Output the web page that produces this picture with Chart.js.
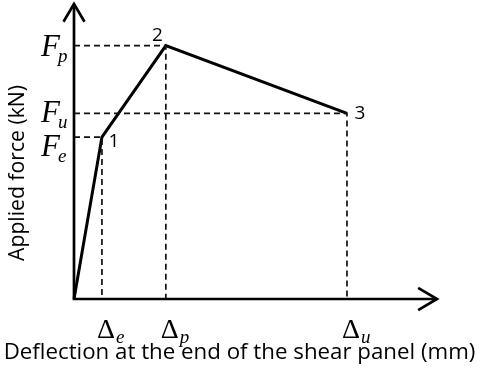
<!DOCTYPE html>
<html>
<head>
<meta charset="utf-8">
<script src="https://cdn.jsdelivr.net/npm/chart.js@4/dist/chart.umd.min.js"></script>
<style>
  html, body { margin: 0; padding: 0; background: #fff; }
  #wrap { width: 479px; height: 373px; }
</style>
</head>
<body>
<div id="wrap"><canvas id="c" width="479" height="373"></canvas></div>
<script>
// Idealised force–deflection curve of a shear panel (schematic units)
const pointNames = ['1', '2', '3'];
const deflection = [0.77, 2.53, 7.52];   // Δe, Δp, Δu
const force      = [5.49, 8.59, 6.29];   // Fe, Fp, Fu
const subscripts = ['e', 'p', 'u'];
const axisMax = 10;
const xTitle = 'Deflection at the end of the shear panel (mm)';
const yTitle = 'Applied force (kN)';

const curve = [{ x: 0, y: 0 }].concat(deflection.map((d, i) => ({ x: d, y: force[i] })));

// dashed projection of each characteristic point onto both axes
const guides = deflection.map((d, i) => ({
  data: [{ x: 0, y: force[i] }, { x: d, y: force[i] }, { x: d, y: 0 }],
  borderColor: '#111', borderWidth: 1.7, borderDash: [6, 4],
  pointRadius: 0, showLine: true, fill: false, clip: false
}));

const solid = (data, w) => ({
  data, borderColor: '#000', borderWidth: w, pointRadius: 0,
  showLine: true, fill: false, clip: false, borderJoinStyle: 'miter', borderCapStyle: 'butt'
});

const datasets = [
  ...guides,
  solid([{ x: 0, y: axisMax }, { x: 0, y: 0 }, { x: axisMax, y: 0 }], 2.7),          // axes
  solid([{ x: -0.29, y: 9.4 }, { x: 0, y: axisMax }, { x: 0.29, y: 9.4 }], 2.7),     // y arrow
  solid([{ x: 9.48, y: 0.38 }, { x: axisMax, y: 0 }, { x: 9.48, y: -0.38 }], 2.7),   // x arrow
  solid(curve, 3)
];

function fitFont(ctx, text, family, width) {
  ctx.font = '20px "' + family + '"';
  const w = ctx.measureText(text).width;
  return 20 * width / w;
}

const annotate = {
  id: 'annotate',
  afterDatasetsDraw(chart) {
    const { ctx, scales: { x, y } } = chart;
    ctx.save();
    ctx.fillStyle = '#000';

    // force ticks: F with italic subscript
    const fShift = [19, 10, 9];
    subscripts.forEach((s, i) => {
      const py = y.getPixelForValue(force[i]) + fShift[i];
      ctx.font = 'italic 31px "Liberation Serif"';
      ctx.textAlign = 'left';
      ctx.textBaseline = 'alphabetic';
      ctx.fillText('F', 41, py);
      const fw = ctx.measureText('F').width;
      ctx.font = 'italic 19px "Liberation Serif"';
      ctx.fillText(s, 41 + fw - 2, py + 6);
    });

    // deflection ticks: Δ with italic subscript
    subscripts.forEach((s, i) => {
      const px = x.getPixelForValue(deflection[i]) - 5;
      ctx.font = '28px "Liberation Serif"';
      ctx.textAlign = 'left';
      ctx.textBaseline = 'alphabetic';
      ctx.fillText('\u0394', px, 338);
      const dw = ctx.measureText('\u0394').width;
      ctx.font = 'italic 19px "Liberation Serif"';
      ctx.fillText(s, px + dw + 1, 343);
    });

    // point numbers
    const nOff = [[12, 10], [-8.5, -5], [13, 6]];
    ctx.font = '19px "Open Sans"';
    ctx.textAlign = 'center';
    pointNames.forEach((n, i) => {
      const px = x.getPixelForValue(deflection[i]) + nOff[i][0];
      const py = y.getPixelForValue(force[i]) + nOff[i][1];
      ctx.fillText(n, px, py);
    });

    // axis titles
    const xs = fitFont(ctx, xTitle, 'Open Sans', 472);
    ctx.font = xs + 'px "Open Sans"';
    ctx.textAlign = 'center';
    ctx.fillText(xTitle, 239.5, 359);

    const ys = fitFont(ctx, yTitle, 'Open Sans', 176);
    ctx.font = ys + 'px "Open Sans"';
    ctx.translate(24, 173);
    ctx.rotate(-Math.PI / 2);
    ctx.fillText(yTitle, 0, 0);
    ctx.restore();
  }
};

new Chart(document.getElementById('c'), {
  type: 'scatter',
  data: { datasets },
  options: {
    responsive: false,
    animation: false,
    devicePixelRatio: 1,
    layout: { padding: { left: 74, right: 42, top: 4, bottom: 74 } },
    plugins: { legend: { display: false }, tooltip: { enabled: false } },
    scales: {
      x: { type: 'linear', min: 0, max: axisMax, display: false },
      y: { type: 'linear', min: 0, max: axisMax, display: false }
    }
  },
  plugins: [annotate]
});
</script>
</body>
</html>
